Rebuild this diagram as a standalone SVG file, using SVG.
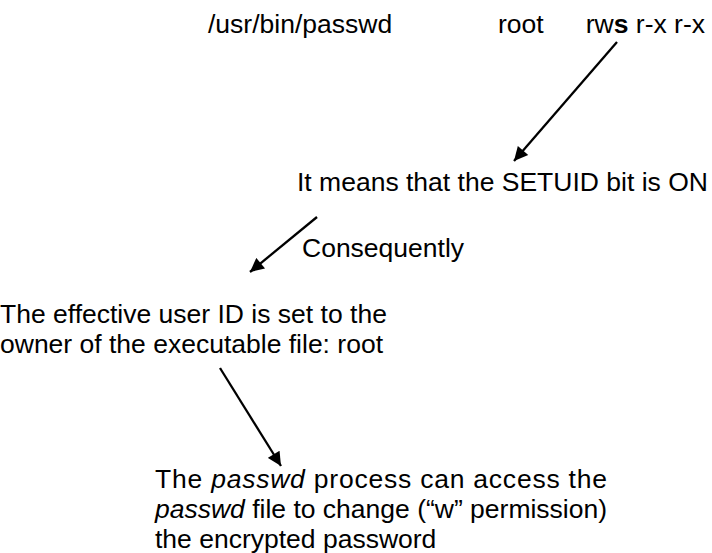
<svg xmlns="http://www.w3.org/2000/svg" width="712" height="553" viewBox="0 0 712 553">
<defs>
<style>
text{font-family:"Liberation Sans",Arial,sans-serif;font-size:26.5px;fill:#000}
.c{stroke:#000;stroke-width:2.3;fill:none}
</style>
<marker id="ah" viewBox="0 0 10 10" refX="10" refY="5" markerWidth="7" markerHeight="6" markerUnits="strokeWidth" orient="auto">
<path d="M0,0 L10,5 L0,10 z" fill="#000"/>
</marker>
</defs>
<rect width="712" height="553" fill="#fff"/>
<g id="file">
<text x="208" y="33">/usr/bin/passwd</text>
<text x="498" y="33">root</text>
<text x="705" y="33" text-anchor="end">rw<tspan font-weight="bold">s</tspan> r-x r-x</text>
</g>
<g id="setuid">
<text x="297" y="191">It means that the SETUID bit is ON</text>
</g>
<g id="consequently">
<text x="302" y="257">Consequently</text>
</g>
<g id="effective">
<text x="0" y="323">The effective user ID is set to the</text>
<text x="0" y="353">owner of the executable file: root</text>
</g>
<g id="process">
<text x="155" y="488" textLength="452" lengthAdjust="spacing">The <tspan font-style="italic">passwd</tspan> process can access the</text>
<text x="155" y="518" textLength="452" lengthAdjust="spacing"><tspan font-style="italic">passwd</tspan> file to change (“w” permission)</text>
<text x="155" y="548">the encrypted password</text>
</g>
<g id="connectors">
<line class="c" x1="617" y1="42" x2="514" y2="161" marker-end="url(#ah)"/>
<line class="c" x1="317" y1="217" x2="250" y2="272" marker-end="url(#ah)"/>
<line class="c" x1="220" y1="368" x2="281" y2="466" marker-end="url(#ah)"/>
</g>
</svg>
